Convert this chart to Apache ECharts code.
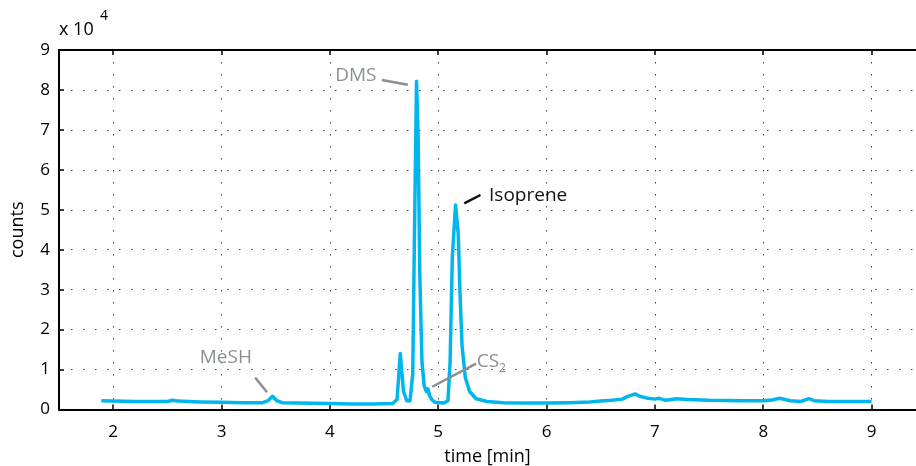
<!DOCTYPE html>
<html><head><meta charset="utf-8">
<script src="https://cdn.jsdelivr.net/npm/echarts@6/dist/echarts.min.js"></script>
<style>html,body{margin:0;padding:0;background:#fff}#c{width:916px;height:466px}</style>
</head><body><div id="c"></div>
<script>
const times = [1.89,2.0,2.2,2.4,2.5,2.55,2.6,2.8,3.0,3.2,3.38,3.43,3.47,3.51,3.56,3.7,4.0,4.2,4.4,4.58,4.62,4.65,4.68,4.71,4.74,4.765,4.78,4.80,4.815,4.83,4.85,4.87,4.89,4.905,4.92,4.94,4.97,5.05,5.09,5.11,5.13,5.16,5.185,5.2,5.22,5.25,5.29,5.35,5.45,5.6,5.8,6.0,6.2,6.4,6.5,6.6,6.7,6.75,6.82,6.86,6.92,7.0,7.04,7.1,7.2,7.3,7.5,7.8,8.0,8.08,8.15,8.25,8.35,8.42,8.47,8.6,9.0];
const counts = [0.22,0.21,0.20,0.20,0.20,0.23,0.21,0.19,0.18,0.17,0.17,0.22,0.33,0.22,0.17,0.16,0.15,0.14,0.14,0.15,0.25,1.40,0.45,0.22,0.22,0.9,4.2,8.22,6.8,3.4,1.2,0.6,0.45,0.52,0.35,0.25,0.18,0.16,0.22,1.2,3.8,5.12,4.4,3.0,1.6,0.8,0.45,0.27,0.2,0.17,0.16,0.16,0.17,0.19,0.21,0.23,0.26,0.33,0.39,0.33,0.29,0.26,0.28,0.23,0.27,0.25,0.23,0.22,0.22,0.24,0.28,0.22,0.20,0.27,0.22,0.2,0.2];
const xTicks = [2,3,4,5,6,7,8,9];
const labels = [
  {name:'DMS', at:[4.24,8.36], line:[[4.48,8.25],[4.72,8.13]], color:'#8a8f94'},
  {name:'Isoprene', at:[5.83,5.36], line:[[5.24,5.16],[5.39,5.37]], color:'#111111'},
  {name:'CS2', at:[5.49,1.19], line:[[4.945,0.57],[5.35,1.15]], color:'#8a8f94'},
  {name:'MeSH', at:[3.04,1.29], line:[[3.31,0.80],[3.42,0.43]], color:'#8a8f94'}
];
const FONT = '"Open Sans", "DejaVu Sans", sans-serif';
const chart = echarts.init(document.getElementById('c'));
const split = {show:true, lineStyle:{color:'#444', width:1, type:[1.5,10.5]}};
chart.setOption({
  animation:false,
  grid:{left:59, top:50, right:0, bottom:56.5, outerBoundsMode:'none', containLabel:false},
  xAxis:[{
    type:'value', min:1.5, max:9.41, position:'bottom',
    axisLine:{show:true, onZero:false, lineStyle:{color:'#000', width:2}},
    axisTick:{show:true, inside:true, length:5, customValues:xTicks, lineStyle:{color:'#000', width:1.5}},
    axisLabel:{customValues:xTicks, color:'#000', fontSize:17, fontFamily:FONT, margin:14},
    splitLine:split,
    name:'time [min]', nameLocation:'middle', nameGap:38,
    nameTextStyle:{color:'#000', fontSize:18, fontFamily:FONT}
  },{
    type:'value', min:1.5, max:9.41, position:'top',
    axisLine:{show:true, onZero:false, lineStyle:{color:'#000', width:2}},
    axisTick:{show:true, inside:true, length:5, customValues:xTicks, lineStyle:{color:'#000', width:1.5}},
    axisLabel:{show:false}, splitLine:{show:false}
  }],
  yAxis:[{
    type:'value', min:0, max:9, interval:1,
    axisLine:{show:true, onZero:false, lineStyle:{color:'#000', width:2}},
    axisTick:{show:true, inside:true, length:5, lineStyle:{color:'#000', width:1.5}},
    axisLabel:{color:'#000', fontSize:17, fontFamily:FONT, margin:9},
    splitLine:split,
    name:'counts', nameLocation:'middle', nameGap:32,
    nameTextStyle:{color:'#000', fontSize:18, fontFamily:FONT}
  }],
  graphic:[{
    type:'text', left:59, top:21,
    style:{text:'x 10', fontSize:18, fontFamily:FONT, fill:'#000'}
  },{
    type:'text', left:100, top:9,
    style:{text:'4', fontSize:14, fontFamily:FONT, fill:'#000'}
  }],
  series:[{
    type:'line', xAxisIndex:0, yAxisIndex:0,
    data: times.map((t,i)=>[t,counts[i]]),
    symbol:'none', smooth:false,
    lineStyle:{color:'#00b6ec', width:3.5, join:'round'},
    markLine:{
      symbol:['none','none'], silent:true,
      label:{show:false},
      data: labels.map(l=>[{coord:l.line[0], lineStyle:{color:l.color, width:2.5, type:'solid'}},{coord:l.line[1]}])
    },
    markPoint:{
      symbol:'circle', symbolSize:0, silent:true,
      data: labels.map(l=>({coord:l.at, label:{
        show:true, position:'inside', fontFamily:FONT, fontSize:19, color:l.color,
        formatter: l.name==='CS2' ? '{a|CS}{b|2}' : l.name,
        rich:{a:{fontSize:19, color:l.color, fontFamily:FONT}, b:{fontSize:12, color:l.color, fontFamily:FONT, padding:[14,0,0,0]}}
      }}))
    }
  }]
});
</script></body></html>
